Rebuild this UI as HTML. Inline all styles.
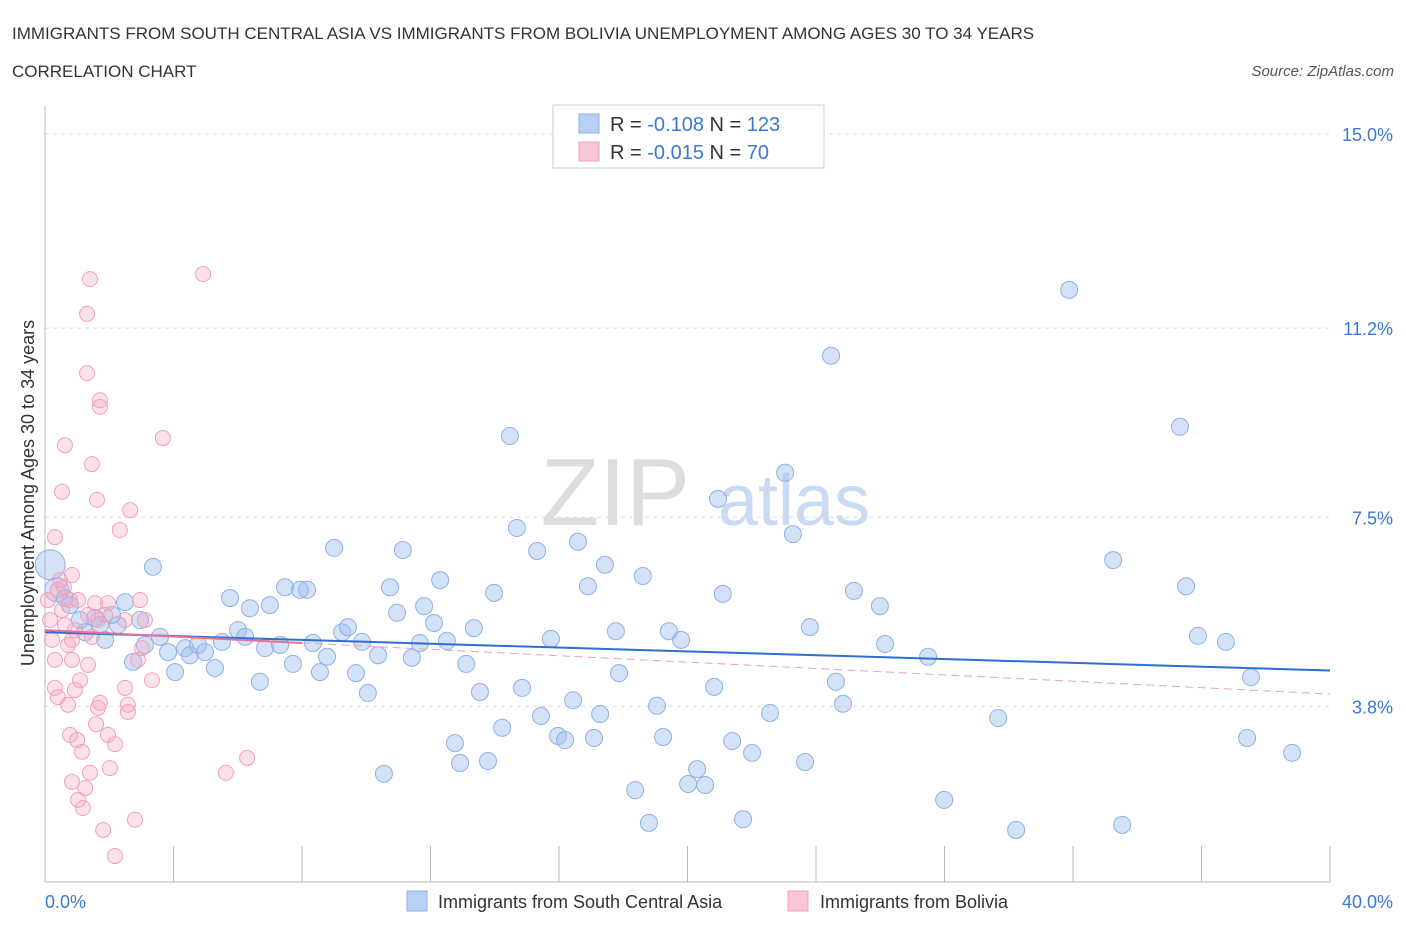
<!DOCTYPE html>
<html><head><meta charset="utf-8"><style>
body{margin:0;background:#fff;font-family:"Liberation Sans",sans-serif;}
svg text{font-family:"Liberation Sans",sans-serif;}
</style></head><body>
<svg id="chart" width="1406" height="930" xmlns="http://www.w3.org/2000/svg">
<text x="12" y="39" font-size="17" fill="#333">IMMIGRANTS FROM SOUTH CENTRAL ASIA VS IMMIGRANTS FROM BOLIVIA UNEMPLOYMENT AMONG AGES 30 TO 34 YEARS</text>
<text x="12" y="77" font-size="17" fill="#333">CORRELATION CHART</text>
<text x="1394" y="76" font-size="15" fill="#555" font-style="italic" text-anchor="end">Source: ZipAtlas.com</text>
<text x="690" y="525" font-size="96" fill="#ddd" font-family="Liberation Serif" text-anchor="end">ZIP</text>
<text x="718" y="525" font-size="72" fill="#c9daf2">atlas</text>
<g id="grid"></g>
<g id="axes"></g>
<g id="pts"></g>
<g id="trend"></g>
<text transform="translate(34,493) rotate(-90)" font-size="18" fill="#333" text-anchor="middle">Unemployment Among Ages 30 to 34 years</text>
<text x="45" y="908" font-size="18" fill="#3a78d4">0.0%</text>
<text x="1393" y="908" font-size="18" fill="#3a78d4" text-anchor="end">40.0%</text>
<g>
<rect x="553" y="105" width="271" height="63" fill="#fff" stroke="#ccc"/>
<rect x="579" y="114" width="20" height="19" fill="#b8d0f5" stroke="#8fb0e6"/>
<rect x="579" y="142" width="20" height="19" fill="#f9c6d6" stroke="#f0a0bc"/>
<text x="610" y="131" font-size="20" fill="#333">R = <tspan fill="#3a78d4">-0.108</tspan>   N = <tspan fill="#3a78d4">123</tspan></text>
<text x="610" y="159" font-size="20" fill="#333">R = <tspan fill="#3a78d4">-0.015</tspan>   N = <tspan fill="#3a78d4"> 70</tspan></text>
</g>
<g>
<rect x="407" y="891" width="20" height="20" fill="#b8d0f5" stroke="#8fb0e6"/>
<text x="438" y="908" font-size="18" fill="#333">Immigrants from South Central Asia</text>
<rect x="788" y="891" width="20" height="20" fill="#f9c6d6" stroke="#f0a0bc"/>
<text x="820" y="908" font-size="18" fill="#333">Immigrants from Bolivia</text>
</g>
</svg>
<script>
const yTicks=[15.0,11.2,7.5,3.8];
const yTickLabels=["15.0%","11.2%","7.5%","3.8%"];
const xTicks=[0,4,8,12,16,20,24,28,32,36,40];
const blueX=[0.16,0.37,0.62,0.78,1.09,1.25,1.56,1.87,1.71,2.27,2.09,2.49,2.74,2.96,3.36,3.11,3.58,3.83,4.05,4.36,4.51,4.76,4.98,5.29,5.51,5.76,6.01,6.23,6.38,6.69,6.85,7.00,7.32,7.47,7.72,7.94,8.16,8.34,8.56,8.78,9.00,9.25,9.43,9.68,9.87,10.05,10.37,10.55,10.74,10.96,11.14,11.42,11.67,11.80,12.11,12.30,12.51,12.76,12.92,13.11,13.35,13.54,13.79,13.98,14.23,14.47,14.69,14.85,15.32,15.44,15.75,15.97,16.19,16.44,16.59,16.90,17.09,17.28,17.43,17.77,17.87,18.61,18.37,18.80,19.05,19.24,19.42,19.80,20.02,20.30,20.55,20.83,20.95,21.10,21.39,21.73,22.01,22.57,23.04,23.28,23.66,23.81,24.47,24.62,24.84,25.18,25.99,26.15,27.49,27.99,29.67,30.23,31.88,33.25,33.53,35.33,35.52,35.89,36.76,37.42,37.54,38.82];
const blueY=[6.57,6.08,5.92,5.78,5.49,5.25,5.53,5.10,5.39,5.39,5.59,5.84,4.67,5.49,6.53,5.00,5.16,4.86,4.47,4.94,4.80,5.00,4.86,4.55,5.06,5.92,5.29,5.16,5.72,4.28,4.94,5.78,5.00,6.13,4.63,6.08,6.08,5.04,4.47,4.77,6.90,5.25,5.35,4.45,5.06,4.06,4.80,2.48,6.13,5.63,6.86,4.75,5.04,5.76,5.43,6.27,5.08,3.08,2.69,4.63,5.33,4.08,2.73,6.02,3.38,9.09,7.29,4.16,6.84,3.61,5.12,3.22,3.14,3.92,7.02,6.15,3.18,3.65,6.57,5.27,4.45,6.35,2.16,1.52,3.81,3.20,5.27,5.10,2.28,2.57,2.26,4.18,7.86,6.00,3.12,1.59,2.89,3.67,8.37,7.17,2.71,5.35,10.66,4.28,3.85,6.06,5.76,5.02,4.77,1.97,3.57,1.38,11.95,6.66,1.48,9.27,6.15,5.18,5.06,3.18,4.37,2.89];
const pinkX=[0.09,0.16,0.22,0.31,0.40,0.47,0.53,0.62,0.72,0.78,0.84,0.93,1.03,0.31,0.53,0.62,0.31,0.40,0.72,0.78,0.84,0.93,1.00,1.09,1.15,1.03,1.18,1.25,1.34,1.40,0.84,1.40,1.31,1.31,1.46,1.62,1.71,1.71,1.56,1.65,1.81,1.87,1.96,2.02,2.18,2.33,2.49,2.49,2.58,2.58,2.65,2.80,2.89,2.96,3.02,3.11,3.33,3.67,4.92,5.63,6.29,1.96,1.34,1.46,1.59,1.65,1.71,2.18,0.59,0.84];
const pinkY=[5.88,5.49,5.10,4.71,6.08,6.27,5.68,5.39,5.00,5.88,5.10,5.29,5.88,7.11,8.00,8.91,4.16,3.98,3.83,3.24,4.71,4.12,3.14,4.31,2.91,1.97,1.81,2.20,4.61,2.50,2.32,12.16,11.48,10.32,8.54,7.84,9.79,9.66,5.82,5.49,1.38,5.59,3.24,2.59,0.87,7.25,5.49,4.16,3.83,3.69,7.64,1.58,4.71,5.88,4.94,5.49,4.31,9.05,12.26,2.50,2.79,5.82,5.59,5.16,3.45,3.77,3.87,3.06,6.13,6.37];
const blueTrend=[5.25,4.50];
const pinkTrend=[5.29,4.04];
const NS="http://www.w3.org/2000/svg";
const X=v=>45+v/40*1285;
const Y=v=>134+(15-v)*51.1;
function mk(tag,attrs,parent){const e=document.createElementNS(NS,tag);for(const k in attrs)e.setAttribute(k,attrs[k]);parent.appendChild(e);return e;}
const grid=document.getElementById('grid'),axes=document.getElementById('axes'),pts=document.getElementById('pts'),trend=document.getElementById('trend');
yTicks.forEach((t,i)=>{
 const l=mk('line',{x1:45,x2:1330,y1:Y(t),y2:Y(t),stroke:'#ddd','stroke-dasharray':'4,4'},grid);
 
 
 const tx=mk('text',{x:1393,y:Y(t)+7,'font-size':18,fill:'#3a78d4','text-anchor':'end'},grid);
 tx.textContent=yTickLabels[i];
 
 
});
const ax=mk('line',{x1:45,x2:45,y1:105,y2:882,stroke:'#bbb'},axes);


const bx=mk('line',{x1:45,x2:1330,y1:882,y2:882,stroke:'#bbb'},axes);


xTicks.forEach(t=>{
 const l=mk('line',{x1:X(t),x2:X(t),y1:846,y2:882,stroke:'#bbb'},axes);
 
 
});
blueX.forEach((v,i)=>{
 const r=i===0?15:(i===1?12:8.5);
 const c=mk('circle',{cx:X(v),cy:Y(blueY[i]),r:r,fill:'rgba(160,190,240,0.45)',stroke:'#8fb0e6','stroke-width':1},pts);
 
 
});
pinkX.forEach((v,i)=>{
 const c=mk('circle',{cx:X(v),cy:Y(pinkY[i]),r:7.5,fill:'rgba(245,170,195,0.35)',stroke:'#f0a0bc','stroke-width':1},pts);
 
 
});
const bt=mk('line',{x1:X(0),y1:Y(blueTrend[0]),x2:X(40),y2:Y(blueTrend[1]),stroke:'#2f6fd0','stroke-width':2},trend);


const pm=v=>pinkTrend[0]+(pinkTrend[1]-pinkTrend[0])*v/40;
const ps=mk('line',{x1:X(0),y1:Y(pm(0)),x2:X(8),y2:Y(pm(8)),stroke:'#e8709a','stroke-width':2},trend);


const pd=mk('line',{x1:X(8),y1:Y(pm(8)),x2:X(40),y2:Y(pm(40)),stroke:'#e8a0ba','stroke-width':1,'stroke-dasharray':'8,5'},trend);


</script>
</body></html>
